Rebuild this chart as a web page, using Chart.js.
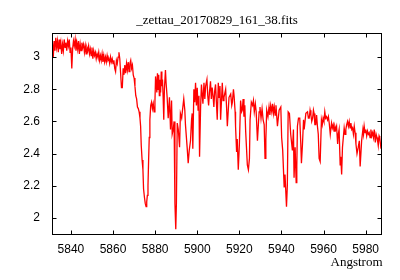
<!DOCTYPE html>
<html>
<head>
<meta charset="utf-8">
<script src="https://cdn.jsdelivr.net/npm/chart.js@4.4.1/dist/chart.umd.min.js"></script>
<style>
  html, body { margin: 0; padding: 0; background: #fff; }
  #wrap { width: 400px; height: 280px; }
</style>
</head>
<body>
<div id="wrap"><canvas id="spec"></canvas></div>
<script>
const chartTitle = '_zettau_20170829_161_38.fits';
const xLabel = 'Angstrom';

// wavelength (Angstrom) and flux
const wave = [
  5831.2,5831.6,5832.0,5832.4,5832.8,5833.2,5833.6,5834.0,5834.4,5834.8,
  5835.2,5835.6,5836.0,5836.4,5836.8,5837.2,5837.6,5838.0,5838.4,5838.8,
  5839.2,5839.6,5840.0,5840.4,5840.8,5841.2,5841.6,5842.0,5842.4,5842.8,
  5843.2,5843.6,5844.0,5844.4,5844.8,5845.2,5845.6,5846.0,5846.4,5846.8,
  5847.2,5847.6,5848.0,5848.4,5848.8,5849.2,5849.6,5850.0,5850.4,5850.8,
  5851.2,5851.6,5852.0,5852.4,5852.8,5853.2,5853.6,5854.0,5854.4,5854.8,
  5855.2,5855.6,5856.0,5856.4,5856.8,5857.2,5857.6,5858.0,5858.4,5858.8,
  5859.2,5859.6,5860.0,5860.4,5860.8,5861.2,5861.6,5862.0,5862.4,5862.8,
  5863.2,5863.6,5864.0,5864.4,5864.8,5865.2,5865.6,5866.0,5866.4,5866.8,
  5867.2,5867.6,5868.0,5868.4,5868.8,5869.2,5869.6,5870.0,5870.4,5870.8,
  5871.2,5871.6,5872.0,5872.4,5872.8,5873.1,5873.4,5873.8,5874.2,5874.5,
  5874.9,5875.3,5875.7,5876.0,5876.3,5876.6,5876.9,5877.2,5877.5,5877.9,
  5878.3,5878.7,5879.1,5879.5,5879.9,5880.2,5880.5,5880.8,5881.1,5881.4,
  5881.7,5882.0,5882.3,5882.6,5882.9,5883.2,5883.5,5883.8,5884.1,5884.4,
  5884.9,5885.2,5885.7,5886.2,5886.8,5887.3,5887.8,5888.1,5888.6,5889.0,
  5889.4,5889.8,5890.1,5890.5,5891.0,5891.6,5892.0,5892.6,5893.0,5893.6,
  5894.1,5894.4,5895.2,5895.7,5896.2,5896.8,5897.3,5897.6,5897.9,5898.4,
  5898.8,5899.2,5899.6,5900.0,5900.4,5900.8,5901.1,5901.6,5902.0,5902.7,
  5903.2,5903.6,5904.0,5904.6,5905.0,5905.4,5905.8,5906.3,5906.7,5907.1,
  5907.5,5907.9,5908.3,5908.7,5909.1,5909.5,5910.0,5910.4,5910.8,5911.1,
  5911.9,5912.3,5912.7,5913.5,5913.9,5914.3,5915.1,5915.9,5916.4,5916.7,
  5917.2,5917.5,5918.0,5918.2,5918.7,5919.0,5919.5,5920.0,5920.6,5921.1,
  5921.4,5921.8,5922.2,5922.6,5923.0,5923.8,5924.3,5924.8,5925.1,5925.7,
  5926.3,5926.7,5927.1,5927.6,5928.0,5928.6,5929.4,5929.8,5930.3,5930.8,
  5931.3,5931.8,5932.2,5932.6,5933.0,5933.6,5934.1,5934.5,5934.9,5935.4,
  5935.8,5936.2,5936.6,5937.0,5937.4,5938.1,5938.9,5939.7,5940.1,5940.6,
  5941.3,5941.7,5942.4,5942.8,5943.2,5943.8,5944.4,5945.2,5945.7,5946.0,
  5946.5,5947.0,5947.3,5947.6,5948.1,5948.7,5949.2,5949.5,5950.0,5950.5,
  5950.8,5951.6,5952.4,5952.8,5953.2,5953.6,5954.0,5954.4,5954.8,5955.2,
  5955.5,5955.9,5956.3,5956.7,5957.1,5957.5,5957.9,5958.4,5959.0,5959.4,
  5959.8,5960.2,5960.6,5961.0,5961.4,5961.9,5962.3,5962.7,5963.2,5963.8,
  5964.2,5964.6,5965.0,5965.4,5965.8,5966.2,5966.7,5967.0,5967.4,5967.9,
  5968.2,5968.6,5969.0,5969.4,5969.8,5970.2,5970.6,5971.0,5971.4,5971.8,
  5972.2,5972.6,5973.0,5973.4,5973.8,5974.2,5974.6,5975.0,5975.4,5975.9,
  5976.5,5977.0,5977.4,5978.1,5978.7,5979.0,5979.3,5979.7,5980.1,5980.5,
  5980.9,5981.3,5981.7,5982.1,5982.5,5982.9,5983.3,5983.7,5984.1,5984.6,
  5985.0,5985.4,5985.8,5986.0,5986.4,5986.7,5987.3
];
const flux = [
  3.09,3.00,3.10,3.04,3.12,3.06,3.10,3.03,3.11,3.05,
  3.09,3.02,3.08,3.04,3.11,3.06,3.09,3.04,3.10,3.07,
  3.11,3.03,3.06,2.93,3.05,3.10,3.07,3.11,3.04,3.09,
  3.05,3.10,3.02,3.08,3.04,3.09,3.06,3.08,3.03,3.07,
  3.02,3.06,3.04,3.07,3.02,3.05,3.01,3.06,2.99,3.04,
  3.01,3.03,2.99,3.02,3.00,3.03,2.98,3.01,2.98,3.02,
  2.97,3.01,2.97,3.00,2.97,3.01,2.98,2.99,2.96,3.00,
  2.97,2.99,2.96,2.98,2.93,2.91,2.98,2.96,3.00,3.03,
  2.99,2.90,2.81,2.81,2.93,2.89,2.95,2.90,2.96,2.92,
  2.97,2.91,2.96,2.98,2.93,2.95,2.89,2.87,2.82,2.76,
  2.74,2.69,2.68,2.66,2.62,2.57,2.45,2.36,2.30,2.18,
  2.13,2.09,2.07,2.10,2.14,2.20,2.36,2.50,2.61,2.70,
  2.72,2.68,2.71,2.66,2.72,2.88,2.84,2.78,2.90,2.80,
  2.89,2.76,2.86,2.78,2.91,2.82,2.86,2.75,2.61,2.80,
  2.92,2.84,2.75,2.62,2.75,2.55,2.73,2.52,2.55,2.60,
  2.09,1.93,2.09,2.59,2.55,2.44,2.65,2.62,2.67,2.74,
  2.67,2.58,2.44,2.34,2.42,2.48,2.61,2.65,2.43,2.80,
  2.72,2.84,2.70,2.81,2.67,2.76,2.38,2.69,2.83,2.71,
  2.84,2.74,2.82,2.86,2.76,2.70,2.78,2.85,2.74,2.81,
  2.76,2.69,2.79,2.83,2.72,2.61,2.84,2.75,2.82,2.61,
  2.84,2.73,2.75,2.80,2.70,2.57,2.75,2.77,2.70,2.72,
  2.80,2.76,2.66,2.57,2.41,2.49,2.30,2.45,2.73,2.66,
  2.67,2.74,2.63,2.70,2.54,2.33,2.30,2.37,2.61,2.72,
  2.70,2.73,2.66,2.71,2.66,2.48,2.66,2.69,2.62,2.68,
  2.61,2.58,2.37,2.49,2.67,2.63,2.69,2.64,2.70,2.66,
  2.71,2.65,2.69,2.64,2.70,2.57,2.67,2.69,2.50,2.42,
  2.19,2.27,2.07,2.20,2.66,2.65,2.52,2.42,2.55,2.25,
  2.44,2.22,2.32,2.57,2.62,2.62,2.46,2.34,2.46,2.61,
  2.55,2.65,2.66,2.62,2.62,2.67,2.64,2.60,2.62,2.67,
  2.65,2.58,2.58,2.64,2.57,2.52,2.37,2.35,2.61,2.58,
  2.62,2.60,2.66,2.62,2.63,2.61,2.63,2.59,2.52,2.59,
  2.56,2.58,2.54,2.57,2.55,2.57,2.46,2.52,2.55,2.33,
  2.38,2.27,2.44,2.50,2.56,2.52,2.55,2.58,2.60,2.57,
  2.60,2.56,2.59,2.55,2.56,2.52,2.57,2.53,2.46,2.40,
  2.44,2.48,2.32,2.48,2.55,2.52,2.57,2.53,2.55,2.51,
  2.54,2.52,2.53,2.50,2.55,2.51,2.53,2.50,2.55,2.47,
  2.52,2.50,2.47,2.45,2.51,2.50,2.43
];

const xMin = 5831, xMax = 5987.3, xStep = 20;
const yMin = 1.9, yMax = 3.15, yStep = 0.2;

// gnuplot-like frame with inward ticks on all four sides, plus title/xlabel
const framePlugin = {
  id: 'frame',
  afterDraw(chart) {
    const {ctx, chartArea: a, scales} = chart;
    const L = Math.round(a.left) + 0.5, R = Math.round(a.right) + 0.5;
    const T = Math.round(a.top) + 0.5, B = Math.round(a.bottom) + 0.5;
    const tl = 4;
    ctx.save();
    ctx.strokeStyle = '#000';
    ctx.lineWidth = 1;
    ctx.beginPath();
    scales.x.ticks.forEach(t => {
      const px = Math.round(scales.x.getPixelForValue(t.value)) + 0.5;
      ctx.moveTo(px, B); ctx.lineTo(px, B - tl);
      ctx.moveTo(px, T); ctx.lineTo(px, T + tl);
    });
    scales.y.ticks.forEach(t => {
      const py = Math.round(scales.y.getPixelForValue(t.value)) + 0.5;
      ctx.moveTo(L, py); ctx.lineTo(L + tl, py);
      ctx.moveTo(R, py); ctx.lineTo(R - tl, py);
    });
    ctx.stroke();
    ctx.strokeRect(L, T, R - L, B - T);

    ctx.fillStyle = '#000';
    ctx.font = '13px "Liberation Serif", serif';
    ctx.textBaseline = 'alphabetic';
    ctx.textAlign = 'center';
    ctx.fillText(chartTitle, (L + R) / 2, 24);
    ctx.textAlign = 'right';
    ctx.fillText(xLabel, R + 1, 266);
    ctx.restore();
  }
};

new Chart(document.getElementById('spec'), {
  type: 'line',
  data: {
    datasets: [{
      data: wave.map((w, i) => ({x: w, y: flux[i]})),
      borderColor: 'rgb(255,0,0)',
      borderWidth: 1.3,
      pointRadius: 0,
      tension: 0,
      fill: false
    }]
  },
  options: {
    responsive: true,
    maintainAspectRatio: false,
    animation: false,
    layout: { padding: { top: 33, right: 19, left: 0, bottom: 0 } },
    plugins: { legend: { display: false }, tooltip: { enabled: false } },
    scales: {
      x: {
        type: 'linear',
        min: xMin, max: xMax,
        afterFit(s) { s.height = 46; },
        grid: { display: false, drawTicks: false },
        border: { display: false },
        ticks: {
          stepSize: xStep, includeBounds: false, maxRotation: 0,
          padding: 8, color: '#000',
          font: { family: '"Liberation Sans", Arial, sans-serif', size: 12 },
          callback: v => String(v)
        }
      },
      y: {
        min: yMin, max: yMax,
        afterFit(s) { s.width = 52; },
        grid: { display: false, drawTicks: false },
        border: { display: false },
        ticks: {
          stepSize: yStep, includeBounds: false,
          padding: 12, color: '#000',
          font: { family: '"Liberation Sans", Arial, sans-serif', size: 12 },
          callback: v => String(+v.toFixed(1))
        }
      }
    }
  },
  plugins: [framePlugin]
});
</script>
</body>
</html>
